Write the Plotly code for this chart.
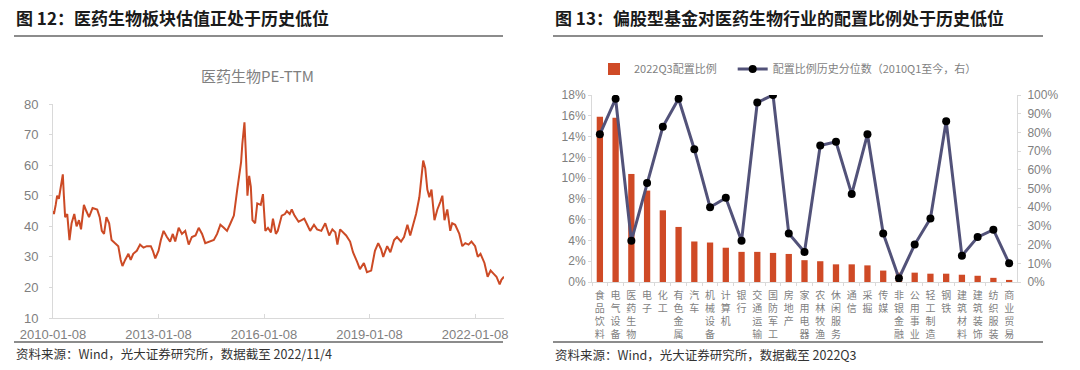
import plotly.graph_objects as go

# ---------------- Left chart data: 医药生物 PE-TTM ----------------
pe_dates = [
    "2010-01-08", "2010-01-18", "2010-02-05", "2010-02-20", "2010-03-10", "2010-03-28", "2010-04-20", "2010-05-01",
    "2010-05-14", "2010-06-05", "2010-06-28", "2010-07-20", "2010-08-17", "2010-09-10", "2010-10-05", "2010-10-26",
    "2010-11-25", "2010-12-20",
    "2011-01-17", "2011-02-23", "2011-04-12", "2011-05-08", "2011-05-30", "2011-06-22", "2011-07-17", "2011-08-14",
    "2011-09-08", "2011-10-12", "2011-11-17", "2011-12-12", "2011-12-30",
    "2012-01-27", "2012-03-01", "2012-03-25", "2012-04-20", "2012-05-27", "2012-06-30", "2012-08-05", "2012-09-08",
    "2012-10-20", "2012-11-10", "2012-12-05",
    "2013-01-08", "2013-02-01", "2013-03-01", "2013-04-05", "2013-05-08", "2013-06-05", "2013-06-30", "2013-08-05",
    "2013-09-08", "2013-10-12", "2013-11-17", "2013-12-20",
    "2014-01-27", "2014-03-01", "2014-04-05", "2014-05-08", "2014-06-23", "2014-08-05", "2014-09-08", "2014-10-12",
    "2014-11-17", "2014-12-20",
    "2015-01-25", "2015-03-01", "2015-04-05", "2015-04-25", "2015-05-15", "2015-05-28", "2015-06-19", "2015-07-06",
    "2015-07-20", "2015-08-07", "2015-08-24", "2015-09-10", "2015-10-08", "2015-10-30", "2015-12-05", "2015-12-28",
    "2016-01-22", "2016-02-18", "2016-03-20", "2016-04-10", "2016-05-10", "2016-05-30", "2016-07-10", "2016-08-12",
    "2016-09-01", "2016-10-01", "2016-10-22", "2016-11-20",
    "2017-01-01", "2017-02-01", "2017-03-01", "2017-04-01", "2017-05-01", "2017-06-10", "2017-07-12", "2017-08-25",
    "2017-10-05", "2017-11-15", "2017-12-18",
    "2018-01-18", "2018-02-08", "2018-03-08", "2018-04-08", "2018-05-10", "2018-06-20", "2018-07-20", "2018-08-30",
    "2018-09-30", "2018-11-10", "2018-12-12",
    "2019-01-25", "2019-03-05", "2019-04-08", "2019-05-08", "2019-05-30", "2019-07-10", "2019-08-12", "2019-09-20",
    "2019-10-20", "2019-12-01",
    "2020-01-01", "2020-02-05", "2020-03-05", "2020-04-05", "2020-05-05", "2020-06-08", "2020-06-28", "2020-07-18",
    "2020-08-08", "2020-08-30", "2020-09-20", "2020-10-12", "2020-11-12", "2020-12-12",
    "2021-01-12", "2021-02-02", "2021-02-24", "2021-03-25", "2021-04-25", "2021-05-15", "2021-06-15", "2021-07-28",
    "2021-08-28", "2021-09-28", "2021-11-01", "2021-12-01",
    "2022-01-08", "2022-02-05", "2022-03-05", "2022-04-15", "2022-05-18", "2022-06-18", "2022-07-18", "2022-08-18",
    "2022-09-20", "2022-10-08", "2022-11-04",
]
pe_values = [
    45, 44, 47, 50, 49, 52, 57, 50, 43, 44, 35.5, 41, 44, 40, 42, 39, 47, 45,
    43, 46, 45.5, 43, 38.5, 37.5, 43, 41, 35.5, 34.5, 33.5, 29, 27,
    29, 31, 29, 31, 32, 34, 33, 33.5, 33.5, 32, 29.5,
    32, 35.5, 38.5, 36.5, 35, 37.5, 35, 39.5, 37.5, 38.5, 34, 36.5,
    37, 39.5, 37.5, 34.5, 35, 35.5, 37.5, 40.5, 39.5, 38.5,
    41, 43.5, 52, 57, 61, 67, 74, 62, 50, 56.5, 53, 42, 41, 47.5, 47, 50.5,
    38.5, 39.5, 38, 42.5, 37.5, 38.5, 43.5, 44, 45, 44, 45.5, 43.5,
    41.5, 42, 42.5, 40.5, 38.5, 40.5, 39, 38.5, 41, 37, 39,
    38, 34, 39, 38, 37, 35, 31.5, 28.5, 26, 28, 25,
    25.5, 32, 34.5, 32.5, 30, 33.5, 31.5, 35.5, 36.5, 35,
    36.5, 40.5, 37, 41, 44, 49.5, 56, 61.5, 59, 52, 49.5, 52, 42, 45.5,
    48, 50, 42, 45.5, 38.5, 41, 40.5, 37.5, 33.5, 34.5, 34, 35,
    33.5, 30, 31, 28, 23.5, 25.5, 24.5, 23.5, 21, 22.5, 23.5,
]
pe_ticks = ["2010-01-08", "2013-01-08", "2016-01-08", "2019-01-08", "2022-01-08"]

# ---------------- Right chart data ----------------
industries = ["食品饮料", "电气设备", "医药生物", "电子", "化工", "有色金属", "汽车", "机械设备", "计算机",
              "银行", "交通运输", "国防军工", "房地产", "家用电器", "农林牧渔", "休闲服务", "通信", "采掘",
              "传媒", "非银金融", "公用事业", "轻工制造", "钢铁", "建筑材料", "建筑装饰", "纺织服装", "商业贸易"]
alloc_2022q3 = [0.159, 0.158, 0.104, 0.088, 0.069, 0.053, 0.039, 0.038, 0.033,
                0.029, 0.029, 0.028, 0.027, 0.021, 0.020, 0.017, 0.017, 0.016,
                0.011, 0.009, 0.009, 0.008, 0.008, 0.007, 0.006, 0.004, 0.002]
hist_pct = [0.79, 0.98, 0.22, 0.53, 0.83, 0.98, 0.71, 0.40, 0.45,
            0.22, 0.96, 1.00, 0.26, 0.16, 0.73, 0.75, 0.47, 0.79,
            0.26, 0.02, 0.20, 0.34, 0.86, 0.14, 0.24, 0.28, 0.10]
pct_ticks = [i / 10 for i in range(11)]
alloc_ticks = [i / 100 for i in range(0, 19, 2)]

W, H = 1080, 370
def px(x):
    return x / W
def py(y):
    return 1 - y / H

AX_GRAY = "#d9d9d9"
TICK_GRAY = "#7f7f7f"
LATIN = "Liberation Sans, Noto Sans CJK SC, sans-serif"
CJK = "Noto Sans CJK SC, sans-serif"

fig = go.Figure()
fig.add_trace(go.Scatter(x=pe_dates, y=pe_values, mode="lines",
                         line=dict(color="#cc4a25", width=2), xaxis="x", yaxis="y",
                         showlegend=False, hoverinfo="skip"))
fig.add_trace(go.Bar(x=industries, y=alloc_2022q3, marker=dict(color="#cf4a26", line=dict(width=0)),
                     width=0.4, name="2022Q3配置比例\u2003", xaxis="x2", yaxis="y2"))
fig.add_trace(go.Scatter(x=industries, y=hist_pct, mode="lines+markers",
                         line=dict(color="#525279", width=3),
                         marker=dict(color="black", size=8),
                         name="配置比例历史分位数（2010Q1至今，右）", xaxis="x2", yaxis="y3"))

axis_common = dict(showline=True, linecolor=AX_GRAY, linewidth=1, showgrid=False, zeroline=False,
                   tickcolor=AX_GRAY, fixedrange=True, automargin=False)

fig.update_layout(
    width=W, height=H,
    margin=dict(l=0, r=0, t=0, b=0, autoexpand=False),
    paper_bgcolor="white", plot_bgcolor="white",
    font=dict(family=LATIN, color=TICK_GRAY),
    hovermode=False,
    xaxis=dict(axis_common, domain=[px(53), px(504)], anchor="y", type="date",
               range=[pe_dates[0], pe_dates[-1]], tickvals=pe_ticks, ticktext=pe_ticks,
               ticks="inside", ticklen=4, tickfont=dict(size=13, color=TICK_GRAY),
               ticklabelstandoff=4),
    yaxis=dict(axis_common, domain=[py(318), py(104)], anchor="x", range=[10, 80], dtick=10,
               ticks="outside", ticklen=3, tickfont=dict(size=13, color=TICK_GRAY),
               ticklabelstandoff=8),
    xaxis2=dict(axis_common, domain=[px(592), px(1017)], anchor="y2", type="category",
                range=[-0.5, len(industries) - 0.5], tickvals=industries,
                ticktext=["<br>".join(s) for s in industries], tickangle=0,
                ticks="outside", ticklen=3, tickson="boundaries",
                tickfont=dict(size=10, color=TICK_GRAY, family=CJK), ticklabelstandoff=4),
    yaxis2=dict(axis_common, domain=[py(282), py(95)], anchor="x2", range=[0, 0.18],
                tickvals=alloc_ticks, tickformat=".0%", ticks="outside", ticklen=3,
                tickfont=dict(size=12, color=TICK_GRAY)),
    yaxis3=dict(axis_common, domain=[py(282), py(95)], anchor="x2", overlaying="y2", side="right",
                range=[0, 1], tickvals=pct_ticks, tickformat=".0%", ticks="outside", ticklen=3,
                tickfont=dict(size=12, color=TICK_GRAY), ticklabelstandoff=4),
    legend=dict(orientation="h", x=px(594), y=py(69), xanchor="left", yanchor="middle",
                font=dict(size=11, color=TICK_GRAY, family=CJK), bgcolor="rgba(0,0,0,0)",
                itemwidth=30),
    showlegend=True,
)

annotations = [
    dict(text="<b>图 12：医药生物板块估值正处于历史低位</b>", x=px(14), y=py(18), xanchor="left",
         yanchor="middle", font=dict(size=17, color="#1a1a1a", family=CJK)),
    dict(text="<b>图 13：偏股型基金对医药生物行业的配置比例处于历史低位</b>", x=px(553), y=py(18),
         xanchor="left", yanchor="middle", font=dict(size=17, color="#1a1a1a", family=CJK)),
    dict(text="医药生物PE-TTM", x=px(257), y=py(75), xanchor="center", yanchor="middle",
         font=dict(size=15, color="#808080", family=CJK)),
    dict(text="资料来源：Wind，光大证券研究所，数据截至 2022/11/4", x=px(14), y=py(353), xanchor="left",
         yanchor="middle", font=dict(size=12.5, color="#333333", family=CJK)),
    dict(text="资料来源：Wind，光大证券研究所，数据截至 2022Q3", x=px(553), y=py(354), xanchor="left",
         yanchor="middle", font=dict(size=12.5, color="#333333", family=CJK)),
]
for a in annotations:
    a.update(xref="paper", yref="paper", showarrow=False)
fig.update_layout(annotations=annotations)

shapes = []
for (x0, x1) in [(14, 503), (553, 1043)]:
    shapes.append(dict(type="line", xref="paper", yref="paper", x0=px(x0), x1=px(x1), y0=py(36), y1=py(36),
                       line=dict(color="#8c8c8c", width=2)))
    shapes.append(dict(type="line", xref="paper", yref="paper", x0=px(x0), x1=px(x1), y0=py(342), y1=py(342),
                       line=dict(color="#8c8c8c", width=2)))
fig.update_layout(shapes=shapes)

fig.write_html("out.html", config={"displayModeBar": False, "staticPlot": True},
               post_script="document.body.style.margin='0';document.body.style.padding='0';")
